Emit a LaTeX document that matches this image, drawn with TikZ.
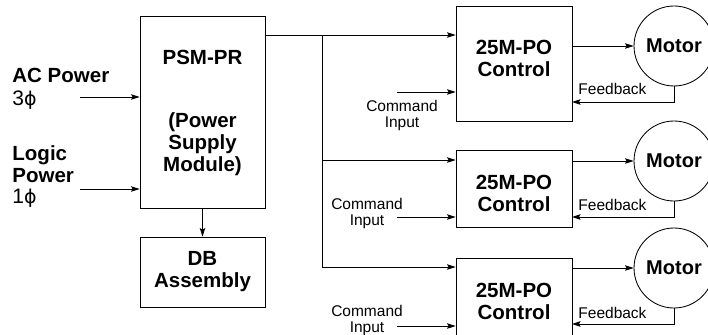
\documentclass[tikz,border=0pt]{standalone}
\usepackage{fontspec}
\setmainfont{Liberation Sans}
\newfontfamily\dvsfont{DejaVu Sans}
\usetikzlibrary{arrows.meta,calc}
\begin{document}
\begin{tikzpicture}[x=1pt,y=-1pt,line width=0.85pt,
  arr/.style={-{Stealth[length=8.5pt,width=5.5pt,inset=1.5pt]}},
  blk/.style={draw,rectangle,inner sep=0pt},
  big/.style={font=\fontsize{20.5}{22}\selectfont\bfseries,align=center,inner sep=0pt},
  sml/.style={font=\fontsize{15.5}{16}\selectfont,align=center,inner sep=0pt},
  phase/.style={font=\fontsize{21}{22}\selectfont,inner sep=0pt,anchor=west},
  motor/.style={draw,circle,minimum size=80pt,inner sep=0pt,font=\fontsize{20}{22}\selectfont\bfseries}]
\useasboundingbox (0,0) rectangle (708,334);
\clip (0,0) rectangle (708,334);
% blocks
\node[blk,minimum width=125pt,minimum height=192pt] (psm) at (202.5,112) {};
\node[blk,minimum width=125pt,minimum height=70pt] (db) at (202.5,272) {};
\node[blk,minimum width=116pt,minimum height=115pt] (c1) at (514,63.5) {};
\node[blk,minimum width=116pt,minimum height=77pt] (c2) at (514,188.5) {};
\node[blk,minimum width=116pt,minimum height=77pt] (c3) at (514,296.5) {};
% texts in blocks
\node[big] (psmt) at (202.5,57) {PSM-PR};
\node[big] (psmt2) at (202.5,144) {(Power\\Supply\\Module)};
\node[big] (dbt) at (202.5,272) {DB\\Assembly};
\node[big] (c1t) at (514,58) {25M-PO\\Control};
\node[big] (c2t) at (514,193.5) {25M-PO\\Control};
\node[big] (c3t) at (514,301) {25M-PO\\Control};
% motors
\node[motor] (m1) at (674,46) {Motor};
\node[motor] (m2) at (674,161) {Motor};
\node[motor] (m3) at (674,268) {Motor};
% left labels
\node[big,anchor=west] (acp) at (12,75) {AC Power};
\node[phase] (ph3) at (12,100) {3{\dvsfont\fontsize{19}{22}\selectfont ϕ}};
\node[big,anchor=west,align=left] (lp) at (12,164) {Logic\\Power};
\node[phase] (ph1) at (12,198) {1{\dvsfont\fontsize{19}{22}\selectfont ϕ}};
\coordinate (ac) at (80,97);
\coordinate (lg) at (80,189);
\draw[arr] (ac) -- (psm.west |- ac);
\draw[arr] (lg) -- (psm.west |- lg);
\draw[arr] (psm.south) -- (db.north);
% bus
\coordinate (j1) at (322,35);
\coordinate (j2) at (322,160);
\coordinate (j3) at (322,267);
\draw (psm.east |- j1) -- (j1) -- (j3);
\draw[arr] (j1) -- (c1.west |- j1);
\draw[arr] (j2) -- (c2.west |- j2);
\draw[arr] (j3) -- (c3.west |- j3);
% command inputs
\coordinate (ci1) at (397,92);
\coordinate (ci2) at (397,217);
\coordinate (ci3) at (397,326);
\draw[arr] (ci1) -- (c1.west |- ci1);
\draw[arr] (ci2) -- (c2.west |- ci2);
\draw[arr] (ci3) -- (c3.west |- ci3);
\node[sml] (cmd1) at (402,115) {Command\\Input};
\node[sml] (cmd2) at (367,213) {Command\\Input};
\node[sml] (cmd3) at (367,320) {Command\\Input};
% motor drive
\draw[arr] (c1.east |- m1) -- (m1.west);
\draw[arr] (c2.east |- m2) -- (m2.west);
\draw[arr] (c3.east |- m3) -- (m3.west);
% feedback
\coordinate (f1) at (572,102);
\coordinate (f2) at (572,217);
\coordinate (f3) at (572,324);
\draw[arr] (m1.south) |- (f1);
\draw[arr] (m2.south) |- (f2);
\draw[arr] (m3.south) |- (f3);
\node[sml,anchor=west] (fb1) at (578,89) {Feedback};
\node[sml,anchor=west] (fb2) at (578,204.5) {Feedback};
\node[sml,anchor=west] (fb3) at (578,313) {Feedback};
\end{tikzpicture}
\end{document}
